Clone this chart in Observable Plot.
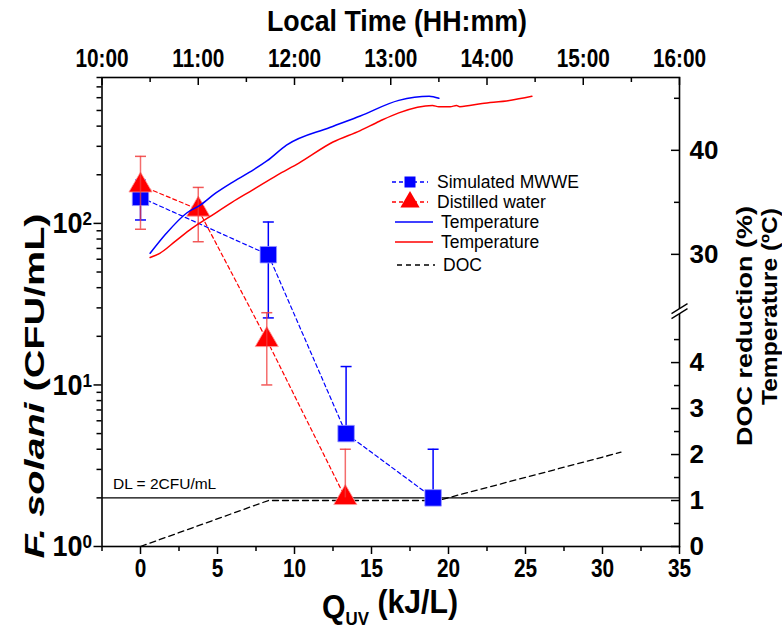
<!DOCTYPE html>
<html><head><meta charset="utf-8">
<script src="https://cdn.jsdelivr.net/npm/d3@7"></script>
<script src="https://cdn.jsdelivr.net/npm/@observablehq/plot@0.6"></script>
<style>
body{margin:0;background:#fff;}
#chart{position:relative;width:782px;height:639px;}
svg text{font-family:"Liberation Sans",Arial,sans-serif;}
</style></head><body><div id="chart"></div>
<script>
// ---------- data ----------
// F. solani counts, Simulated MWWE (blue squares)
const simQ    = [0, 8.3, 13.35, 19.0];
const simCFU  = [145, 64, 5.0, 2.0];
const simLow  = [105, 26, 5.0, 2.0];
const simHigh = [185, 102, 13, 4];
// F. solani counts, Distilled water (red triangles)
const dwQ    = [0, 3.75, 8.2, 13.3];
const dwCFU  = [172, 122, 19, 2.0];
const dwLow  = [92, 77, 10, 2.0];
const dwHigh = [260, 167, 28, 4];
// DOC reduction (%)
const docQ   = [0, 8.3, 19.3, 31.2];
const docVal = [0, 1, 1, 2.05];
// Temperature (blue, simulated MWWE) vs local time
const tBlueTime = ["10:30","10:40","10:53","11:01","11:11","11:21","11:32","11:43","11:55","12:22","12:41","13:05","13:24","13:30"];
const tBlueTemp = [30.1,32.0,34.0,34.7,35.9,36.9,37.9,39.0,40.5,42.2,43.3,44.8,45.2,45.0];
// Temperature (red, distilled water) vs local time
const tRedTime = ["10:30","10:36","10:46","10:56","11:07","11:21","11:34","11:49","12:03","12:24","12:41","12:53","13:05","13:26","13:30","13:37","13:41","13:43","13:57","14:14","14:28"];
const tRedTemp = [29.7,30.1,31.3,32.5,33.6,35.0,36.2,37.6,38.8,40.8,41.9,42.8,43.6,44.3,44.2,44.2,44.3,44.2,44.5,44.8,45.2];
const detectionLimit = 2;
// tick values / labels
const xTicks = [0,5,10,15,20,25,30,35];
const xMinor = [-2.5,2.5,7.5,12.5,17.5,22.5,27.5,32.5];
const timeTicks = ["10:00","11:00","12:00","13:00","14:00","15:00","16:00"];
const timeMinor = ["10:30","11:30","12:30","13:30","14:30","15:30"];
const yTicks = [1,10,100];
const yMinor = [2,3,4,5,6,7,8,9,20,30,40,50,60,70,80,90,200,300,400,500,600,700,800];
const docTicks = [0,1,2,3,4];
const docMinor = [0.5,1.5,2.5,3.5,4.5];
const tempTicks = [30,40];
const tempMinor = [35,45];

// ---------- scales ----------
const X_DOMAIN = [-2.5, 35];
const Y_DOMAIN = [1, 800];
const TIME_DOMAIN = [10, 16];         // hours across full width
const DOC_DOMAIN = [0, 5.1], DOC_FRAC = [0, 0.5];      // lower part of right axis
const TEMP_DOMAIN = [25, 47], TEMP_FRAC = [0.512, 1];  // upper part of right axis
const BREAK_FRAC = 0.505;
const LOGMAX = Math.log10(Y_DOMAIN[1]);
const fracToY = f => Math.pow(10, f * LOGMAX);
const docToY = d => fracToY(DOC_FRAC[0] + (d - DOC_DOMAIN[0]) / (DOC_DOMAIN[1] - DOC_DOMAIN[0]) * (DOC_FRAC[1] - DOC_FRAC[0]));
const tempToY = t => fracToY(TEMP_FRAC[0] + (t - TEMP_DOMAIN[0]) / (TEMP_DOMAIN[1] - TEMP_DOMAIN[0]) * (TEMP_FRAC[1] - TEMP_FRAC[0]));
const hours = s => { const [h, m] = s.split(":").map(Number); return h + m / 60; };
const timeToQ = s => X_DOMAIN[0] + (hours(s) - TIME_DOMAIN[0]) / (TIME_DOMAIN[1] - TIME_DOMAIN[0]) * (X_DOMAIN[1] - X_DOMAIN[0]);

const sim = simQ.map((q, i) => ({q, v: simCFU[i], lo: simLow[i], hi: simHigh[i]}));
const dw = dwQ.map((q, i) => ({q, v: dwCFU[i], lo: dwLow[i], hi: dwHigh[i]}));
const doc = docQ.map((q, i) => ({q, y: docToY(docVal[i])}));
const tBlue = tBlueTime.map((t, i) => ({q: timeToQ(t), y: tempToY(tBlueTemp[i])}));
const tRed = tRedTime.map((t, i) => ({q: timeToQ(t), y: tempToY(tRedTemp[i])}));

const BLUE = "#0000ff", RED = "#ff0000", RED_ERR = "#f03c3c";
const capSymbol = {draw(c) { c.moveTo(-5.5, 0); c.lineTo(5.5, 0); }};
const breakFill = {draw(c) { c.moveTo(-8, 4); c.lineTo(8, -6); c.lineTo(8, -1); c.lineTo(-8, 9); c.closePath(); }};
const breakLines = {draw(c) { c.moveTo(-8, 4); c.lineTo(8, -6); c.moveTo(-8, 9); c.lineTo(8, -1); }};

const TICKFONT = {fontWeight: "bold", fontSize: 26};
const timeLabelFor = new Map(timeTicks.map(t => [timeToQ(t), t]));

const plot = Plot.plot({
  width: 782, height: 639,
  marginLeft: 101.5, marginRight: 103, marginTop: 77, marginBottom: 93,
  x: {domain: X_DOMAIN},
  y: {type: "log", domain: Y_DOMAIN},
  marks: [
    Plot.ruleY([detectionLimit], {stroke: "#000", strokeWidth: 1.2}),
    Plot.text(["DL = 2CFU/mL"], {frameAnchor: "left", y: () => detectionLimit, dx: 11, dy: -14, textAnchor: "start", fontSize: 15.5}),
    Plot.line(doc, {x: "q", y: "y", stroke: "#000", strokeWidth: 1.3, strokeDasharray: "6,4"}),
    Plot.line(sim, {x: "q", y: "v", stroke: BLUE, strokeWidth: 1.2, strokeDasharray: "4,3"}),
    Plot.line(dw, {x: "q", y: "v", stroke: RED, strokeWidth: 1.2, strokeDasharray: "4,3"}),
    Plot.ruleX(sim, {x: "q", y1: "lo", y2: "hi", stroke: BLUE, strokeWidth: 1.5}),
    Plot.dot(sim.filter(d => d.hi > d.v), {x: "q", y: "hi", symbol: capSymbol, stroke: BLUE, strokeWidth: 1.5}),
    Plot.dot(sim.filter(d => d.lo < d.v), {x: "q", y: "lo", symbol: capSymbol, stroke: BLUE, strokeWidth: 1.5}),
    Plot.dot(sim, {x: "q", y: "v", symbol: "square", r: 9.3, fill: BLUE, stroke: "#9999ff", strokeWidth: 0.8}),
    Plot.dot(dw, {x: "q", y: "v", symbol: "triangle", r: 8.6, fill: RED, stroke: "#ff9999", strokeWidth: 0.8}),
    Plot.ruleX(dw, {x: "q", y1: "lo", y2: "hi", stroke: RED_ERR, strokeWidth: 1.5, strokeOpacity: 0.75}),
    Plot.dot(dw.filter(d => d.hi > d.v), {x: "q", y: "hi", symbol: capSymbol, stroke: RED_ERR, strokeWidth: 1.5, strokeOpacity: 0.85}),
    Plot.dot(dw.filter(d => d.lo < d.v), {x: "q", y: "lo", symbol: capSymbol, stroke: RED_ERR, strokeWidth: 1.5, strokeOpacity: 0.85}),
    Plot.line(tBlue, {x: "q", y: "y", stroke: BLUE, strokeWidth: 1.5, curve: "monotone-x"}),
    Plot.line(tRed, {x: "q", y: "y", stroke: RED, strokeWidth: 1.5, curve: "monotone-x"}),
    Plot.frame({stroke: "#000", strokeWidth: 1.6}),
    // bottom axis (ticks outward)
    Plot.axisX(xTicks, {anchor: "bottom", tickSize: 8, tickPadding: 4, strokeWidth: 1.5, label: null, ...TICKFONT}),
    Plot.axisX(xMinor, {anchor: "bottom", tickSize: 5, strokeWidth: 1.5, fill: "none", label: null}),
    // top axis (local time, ticks inward)
    Plot.axisX(timeTicks.map(timeToQ), {anchor: "bottom", frameAnchor: "top", tickSize: 8, strokeWidth: 1.5, fill: "none", label: null}),
    Plot.axisX(timeMinor.map(timeToQ), {anchor: "bottom", frameAnchor: "top", tickSize: 5, strokeWidth: 1.5, fill: "none", label: null}),
    Plot.axisX(timeTicks.map(timeToQ), {anchor: "top", tickSize: 0, tickPadding: 11, label: null, tickFormat: d => timeLabelFor.get(d), ...TICKFONT}),
    // left axis (ticks outward)
    Plot.axisY(yTicks, {anchor: "left", tickSize: 8, tickPadding: 2, strokeWidth: 1.5, label: null, tickFormat: d => "10^" + Math.round(Math.log10(d)), fontWeight: "bold", fontSize: 30}),
    Plot.axisY(yMinor, {anchor: "left", tickSize: 5, strokeWidth: 1.5, fill: "none", label: null}),
    // right axis: ticks pointing inward
    Plot.axisY(docTicks.map(docToY).concat(tempTicks.map(tempToY)), {anchor: "left", frameAnchor: "right", tickSize: 8, strokeWidth: 1.5, fill: "none", label: null}),
    Plot.axisY(docMinor.map(docToY).concat(tempMinor.map(tempToY)), {anchor: "left", frameAnchor: "right", tickSize: 5, strokeWidth: 1.5, fill: "none", label: null}),
    Plot.text(docTicks, {frameAnchor: "right", y: docToY, text: d => String(d), dx: 10, textAnchor: "start", ...TICKFONT, ariaLabel: "right tick label"}),
    Plot.text(tempTicks, {frameAnchor: "right", y: tempToY, text: d => String(d), dx: 10, textAnchor: "start", ...TICKFONT, ariaLabel: "right tick label"}),
    // axis break
    Plot.dot([BREAK_FRAC], {frameAnchor: "right", y: d => fracToY(d), symbol: breakFill, fill: "#fff", stroke: "none"}),
    Plot.dot([BREAK_FRAC], {frameAnchor: "right", y: d => fracToY(d), symbol: breakLines, fill: "none", stroke: "#000", strokeWidth: 1.3})
  ]
});
document.getElementById("chart").appendChild(plot);

const svg = d3.select(plot);
const SX = 0.8;
// condense bold tick labels, turn 10^n into superscripts
svg.selectAll("g[aria-label$='tick label'] text").each(function() {
  const t = d3.select(this);
  const tr = t.attr("transform") || "";
  const s = t.text();
  if (s.startsWith("10^")) {
    t.attr("transform", tr + ` scale(0.9,1)`);
    const e = s.slice(3);
    t.text("");
    t.append("tspan").text("10");
    t.append("tspan").attr("dy", "-0.42em").attr("font-size", 19).text(e);
  } else {
    t.attr("transform", tr + ` scale(${SX},1)`);
  }
});

// axis titles: font size sets glyph height, span sets the on-screen length of the text
function rich(parent, x, y, rot, anchor, parts, size, sx, span) {
  const g = parent.append("g").attr("transform", `translate(${x},${y}) scale(${sx},1) rotate(${rot})`);
  const t = g.append("text").attr("text-anchor", anchor).attr("font-weight", "bold").attr("font-size", size).attr("fill", "#000");
  parts.forEach(p => {
    const ts = t.append("tspan").text(p.t);
    if (p.italic) ts.attr("font-style", "italic");
    if (p.size) ts.attr("font-size", p.size);
    if (p.dy) ts.attr("dy", p.dy);
  });
  if (span) t.attr("textLength", rot ? span : span / sx).attr("lengthAdjust", "spacingAndGlyphs");
  return t;
}
rich(svg, 397, 31, 0, "middle", [{t: "Local Time (HH:mm)"}], 30, 0.89, 260);
rich(svg, 390, 618, 0, "middle", [{t: "Q"}, {t: "UV", size: 19, dy: "0.35em"}, {t: " (kJ/L)", dy: "-0.35em"}], 34, 0.88, 136);
rich(svg, 44, 386, -90, "middle", [{t: "F. solani", italic: true}, {t: " (CFU/mL)"}], 36, 0.78, 345);
rich(svg, 752, 206, -90, "end", [{t: "DOC reduction (%)"}], 27, 0.8, 240);
rich(svg, 777, 208, -90, "end", [{t: "Temperature (ºC)"}], 27, 0.8, 197);

// legend
const leg = svg.append("g").attr("font-family", "Liberation Sans, Arial, sans-serif").attr("font-size", 17.5).attr("text-anchor", "start");
const rows = [
  {y: 182, stroke: BLUE, dash: "4,3", sym: d3.symbolSquare, size: 121, fill: BLUE, label: "Simulated MWWE", x1: 392, x2: 428, tx: 437},
  {y: 202, stroke: RED, dash: "4,3", sym: d3.symbolTriangle, size: 160, fill: RED, label: "Distilled water", x1: 392, x2: 428, tx: 437},
  {y: 222, stroke: BLUE, dash: null, label: "Temperature", x1: 395, x2: 433, tx: 441},
  {y: 242, stroke: RED, dash: null, label: "Temperature", x1: 395, x2: 433, tx: 441},
  {y: 265, stroke: "#000", dash: "5,4", label: "DOC", x1: 397, x2: 435, tx: 443}
];
rows.forEach(r => {
  leg.append("line").attr("x1", r.x1).attr("x2", r.x2).attr("y1", r.y).attr("y2", r.y)
    .attr("stroke", r.stroke).attr("stroke-width", 1.3).attr("stroke-dasharray", r.dash);
  if (r.sym) leg.append("path").attr("d", d3.symbol(r.sym, r.size)()).attr("transform", `translate(${(r.x1 + r.x2) / 2},${r.y})`).attr("fill", r.fill);
  leg.append("text").attr("x", r.tx).attr("y", r.y).attr("dy", "0.36em").attr("fill", "#000").text(r.label);
});
</script></body></html>
